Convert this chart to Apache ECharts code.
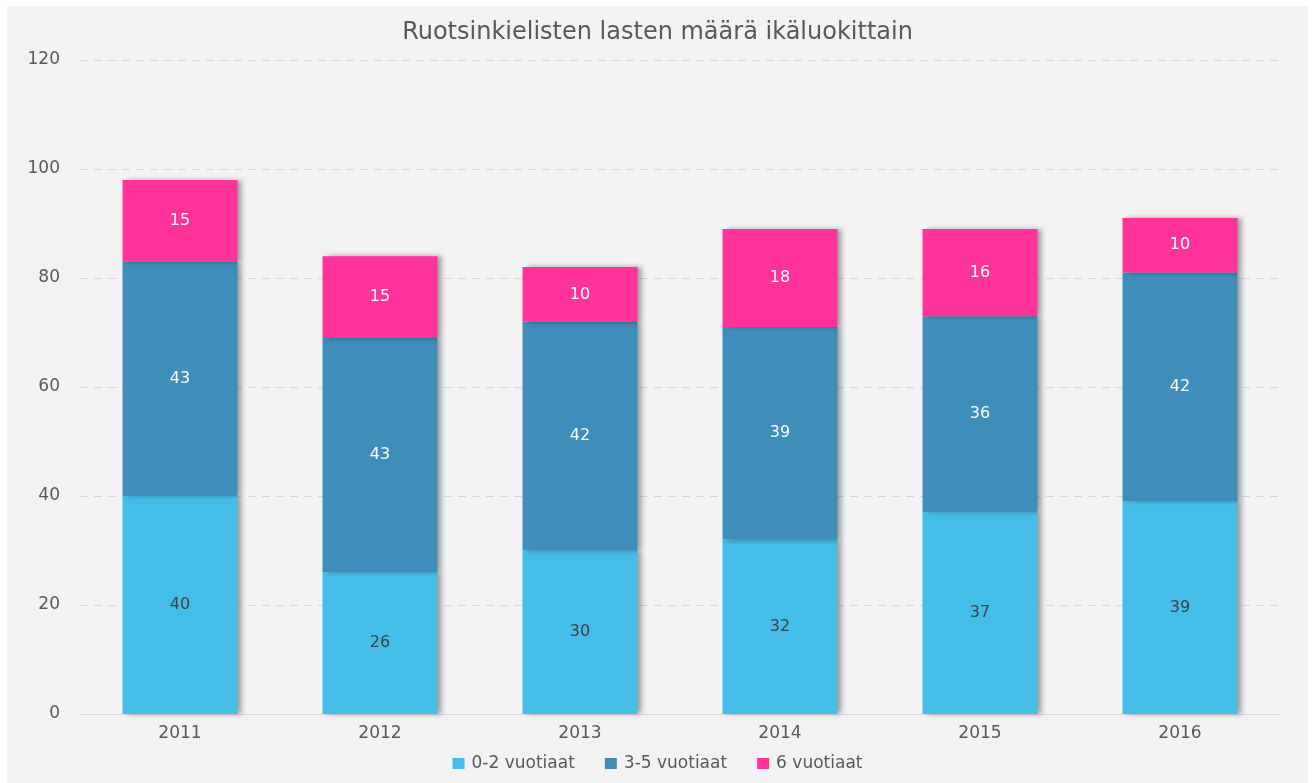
<!DOCTYPE html>
<html>
<head>
<meta charset="utf-8">
<script src="https://cdn.jsdelivr.net/npm/echarts@6/dist/echarts.min.js"></script>
<style>
    html, body { margin: 0; padding: 0; background: #ffffff; }
    #chart { position: absolute; left: 7px; top: 6px; width: 1301px; height: 777px; }
</style>
</head>
<body>
<div id="chart"></div>
<script>
    var years = ['2011', '2012', '2013', '2014', '2015', '2016'];
    var age02 = [40, 26, 30, 32, 37, 39];
    var age35 = [43, 43, 42, 39, 36, 42];
    var age6 = [15, 15, 10, 18, 16, 10];
    var seriesNames = ['0-2 vuotiaat', '3-5 vuotiaat', '6 vuotiaat'];

    var fontFamily = '"DejaVu Sans", sans-serif';
    var shadow = {
        shadowColor: 'rgba(0,0,0,0.35)',
        shadowBlur: 5,
        shadowOffsetX: 4,
        shadowOffsetY: 0
    };

    function barSeries(name, data, color, labelColor) {
        return {
            name: name,
            type: 'bar',
            stack: 'total',
            barWidth: '57.5%',
            data: data,
            itemStyle: Object.assign({ color: color }, shadow),
            label: {
                show: true,
                position: 'inside',
                color: labelColor,
                fontSize: 16,
                fontFamily: fontFamily
            }
        };
    }

    var myChart = echarts.init(document.getElementById('chart'));
    myChart.setOption({
        backgroundColor: '#f2f2f2',
        animation: false,
        title: {
            text: 'Ruotsinkielisten lasten määrä ikäluokittain',
            left: 'center',
            top: 10,
            textStyle: {
                color: '#595959',
                fontSize: 24,
                fontWeight: 'normal',
                fontFamily: fontFamily
            }
        },
        legend: {
            data: seriesNames,
            bottom: 6,
            left: 'center',
            itemWidth: 12,
            itemHeight: 11,
            itemGap: 30,
            icon: 'rect',
            textStyle: { color: '#595959', fontSize: 17, fontFamily: fontFamily, padding: [0, 0, 0, 2] }
        },
        grid: {
            left: 73,
            right: 28,
            top: 54,
            bottom: 69,
            containLabel: false
        },
        xAxis: {
            type: 'category',
            data: years,
            axisTick: { show: false },
            axisLine: { lineStyle: { color: '#d9d9d9', width: 1 } },
            axisLabel: { color: '#595959', fontSize: 17, margin: 11, fontFamily: fontFamily }
        },
        yAxis: {
            type: 'value',
            min: 0,
            max: 120,
            interval: 20,
            axisLine: { show: false },
            axisTick: { show: false },
            axisLabel: { color: '#595959', fontSize: 17, margin: 20, fontFamily: fontFamily },
            splitLine: { lineStyle: { color: '#d6d6d6', type: [8, 6] } }
        },
        series: [
            barSeries(seriesNames[0], age02, '#45bde9', '#404040'),
            barSeries(seriesNames[1], age35, '#3f8dba', '#ffffff'),
            barSeries(seriesNames[2], age6, '#ff3399', '#ffffff')
        ]
    });
</script>
</body>
</html>
